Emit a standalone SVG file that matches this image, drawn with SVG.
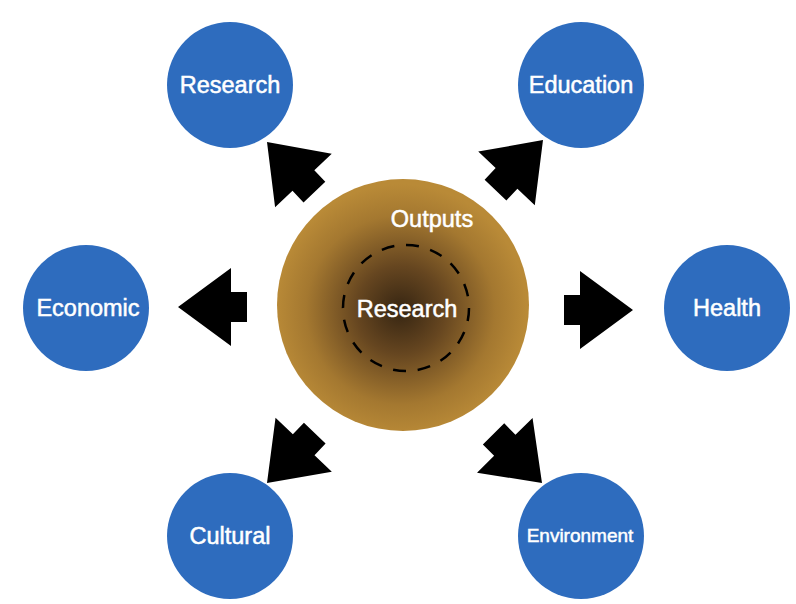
<svg xmlns="http://www.w3.org/2000/svg" width="796" height="604" viewBox="0 0 796 604">
<defs>
<radialGradient id="core" cx="0.49" cy="0.52" r="0.5">
<stop offset="0" stop-color="#362512"/>
<stop offset="0.35" stop-color="#664620"/>
<stop offset="0.75" stop-color="#a47830"/>
<stop offset="1" stop-color="#b98a37"/>
</radialGradient>
<polygon id="arrow" points="0,0 -53,-39 -53,-15 -69,-15 -69,15 -53,15 -53,39"/>
</defs>
<style>
.node{fill:#2e6cbe}
.lbl{font-family:"Liberation Sans",Arial,sans-serif;font-size:23.5px;fill:#fff;stroke:#fff;stroke-width:0.5;text-anchor:middle}
.arr{fill:#000}
</style>
<rect width="796" height="604" fill="#fff"/>
<g id="center">
<circle cx="403" cy="305" r="126" fill="url(#core)"/>
<circle cx="406" cy="308" r="63" fill="none" stroke="#000" stroke-width="2.5" stroke-dasharray="13 11.7"/>
<text class="lbl" x="432" y="227" font-size="22">Outputs</text>
<text class="lbl" x="407" y="317">Research</text>
</g>
<g id="node-research">
<circle class="node" cx="230" cy="85" r="63"/>
<text class="lbl" x="230" y="93">Research</text>
</g>
<g id="node-education">
<circle class="node" cx="581" cy="85" r="63"/>
<text class="lbl" x="581" y="93">Education</text>
</g>
<g id="node-economic">
<circle class="node" cx="86" cy="308" r="63"/>
<text class="lbl" x="88" y="316">Economic</text>
</g>
<g id="node-health">
<circle class="node" cx="727" cy="308" r="63"/>
<text class="lbl" x="727" y="316">Health</text>
</g>
<g id="node-cultural">
<circle class="node" cx="230" cy="536" r="63"/>
<text class="lbl" x="230" y="544">Cultural</text>
</g>
<g id="node-environment">
<circle class="node" cx="581" cy="536" r="63"/>
<text class="lbl" x="580" y="542" style="font-size:19px">Environment</text>
</g>
<g id="connectors" class="arr">
<use href="#arrow" transform="translate(267,142) rotate(-133.4)"/>
<use href="#arrow" transform="translate(543,140) rotate(-46.5)"/>
<use href="#arrow" transform="translate(178,307) rotate(180)"/>
<use href="#arrow" transform="translate(633,310)"/>
<use href="#arrow" transform="translate(267,483) rotate(133.8)"/>
<use href="#arrow" transform="translate(542,483) rotate(45.4)"/>
</g>
</svg>
